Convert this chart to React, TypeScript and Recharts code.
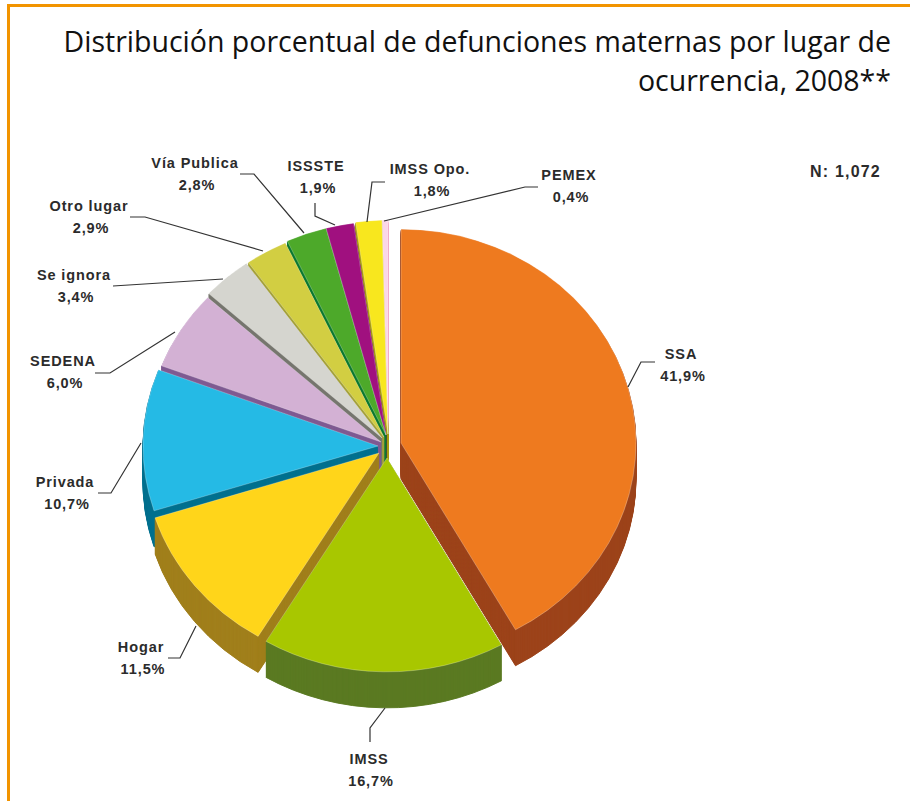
import React from 'react';
import { PieChart, Pie, Cell, Sector } from 'recharts';

const places = ['SSA', 'IMSS', 'Hogar', 'Privada', 'SEDENA', 'Se ignora', 'Otro lugar', 'Vía Publica', 'ISSSTE', 'IMSS Opo.', 'PEMEX'];
const shares = [41.9, 16.7, 11.5, 10.7, 6.0, 3.4, 2.9, 2.8, 1.9, 1.8, 0.4];
const topColors = ['#EE7A1F', '#A8C700', '#FFD51A', '#25BAE5', '#D3B1D4', '#D5D5CF', '#D2CE42', '#4DA92A', '#A0107F', '#F8E71E', '#FBD7E8'];
const sideColors = ['#9C431A', '#5A7A22', '#A17F1B', '#00708F', '#7F5A92', '#77776F', '#A5A23A', '#0D7A30', '#6D0A58', '#A89B10', '#F0A0C0'];

// how far each slice is pulled out of the pie
const pullX = [16, 2, -6, -7, -4, -3, -1, 1, 1, 3, 3];
const pullY = [2, 17, 12, 5, 1, -3, -4, -6, -6, -7, -7];

// sides are painted from the back of the pie to the front
const sideOrder = [10, 9, 8, 7, 6, 5, 4, 3, 0, 2, 1];

// leader line (slice, elbow, end) and label centre for each slice
const leaders: number[][][] = [
  [[628, 387], [641, 362], [655, 362]],
  [[385, 708], [370, 728], [370, 742]],
  [[196, 626], [180, 658], [168, 658]],
  [[141, 443], [111, 493], [98, 493]],
  [[175, 332], [110, 373], [95, 373]],
  [[223, 279], [113, 286], [113, 286]],
  [[263, 251], [145, 217], [130, 217]],
  [[304, 233], [254, 174], [240, 174]],
  [[335, 225], [315, 216], [315, 203]],
  [[367, 222], [372, 182], [385, 182]],
  [[384, 221], [525, 187], [538, 187]],
];
const labelSpots = [
  [681, 354], [369, 759], [141, 647], [65, 482], [63, 361], [74, 275], [89, 206], [195, 163], [316, 166], [430, 169], [569, 175],
];

const data = places.map((name, i) => ({ name, value: shares[i] }));

const CX = 385;
const CY = 441;
const RADIUS = 235;
const SQUASH = 0.91;
const DEPTH = 36;

function faceTransform(i: number, extra: number) {
  return `translate(${CX + pullX[i]} ${CY + pullY[i] + extra}) scale(1 ${SQUASH}) translate(${-CX} ${-CY})`;
}

function TopSlice(props: any) {
  const i = places.indexOf(props.name);
  return (
    <g transform={faceTransform(i, 0)}>
      <Sector cx={CX} cy={CY} innerRadius={0} outerRadius={RADIUS} startAngle={props.startAngle} endAngle={props.endAngle} fill={props.fill} stroke="#fff" strokeOpacity={0.45} strokeWidth={0.6} />
    </g>
  );
}

// one pie per slice so the extruded sides can overlap in depth order
const makeSideSlice = (only: number) => (props: any) => {
  const i = places.indexOf(props.name);
  if (i !== only) return <g />;
  const layers = [];
  for (let d = DEPTH; d > 0; d--) {
    layers.push(
      <g key={d} transform={faceTransform(i, d)}>
        <Sector cx={CX} cy={CY} innerRadius={0} outerRadius={RADIUS} startAngle={props.startAngle} endAngle={props.endAngle} fill={props.fill} stroke={props.fill} strokeWidth={1} />
      </g>
    );
  }
  return <g>{layers}</g>;
};

const labelFont = { fontFamily: '"Liberation Sans", Arial, sans-serif', fontSize: 14.5, fontWeight: 700, letterSpacing: 0.9 };

function SliceLabel(props: any) {
  const i = places.indexOf(props.name);
  const pts = leaders[i];
  const [x, y] = labelSpots[i];
  return (
    <g>
      <polyline points={pts.map((p) => p.join(',')).join(' ')} fill="none" stroke="#333" strokeWidth={1.2} />
      <text x={x} y={y + 5} textAnchor="middle" style={{ ...labelFont, fill: '#2b2b2b' }}>{props.name}</text>
      <text x={x + 2} y={y + 27} textAnchor="middle" style={{ ...labelFont, fill: '#2b2b2b' }}>{shares[i].toFixed(1).replace('.', ',')}%</text>
    </g>
  );
}

export default function App() {
  return (
    <div style={{ position: 'absolute', left: 0, top: 0, width: 910, height: 801, background: '#fff', overflow: 'hidden' }}>
      <div style={{ position: 'absolute', left: 7, top: 4, width: 903, height: 3, background: '#F29400' }} />
      <div style={{ position: 'absolute', left: 7, top: 4, width: 3, height: 797, background: '#F29400' }} />
      <div
        style={{
          position: 'absolute',
          right: 19,
          top: 22,
          width: 860,
          textAlign: 'right',
          fontFamily: '"Open Sans", sans-serif',
          fontSize: 28.5,
          lineHeight: '39px',
          color: '#111',
        }}
      >
        Distribución porcentual de defunciones maternas por lugar de
        <br />
        ocurrencia, 2008**
      </div>
      <div style={{ position: 'absolute', left: 810, top: 163, color: '#2b2b2b', ...labelFont, fontSize: 16, letterSpacing: 1.2 }}>
        N: 1,072
      </div>
      <PieChart width={910} height={801} style={{ position: 'absolute', left: 0, top: 0 }}>
        {sideOrder.map((k) => (
          <Pie
            key={k}
            data={data}
            dataKey="value"
            nameKey="name"
            cx={CX}
            cy={CY}
            outerRadius={RADIUS}
            startAngle={90}
            endAngle={-270}
            stroke="none"
            shape={makeSideSlice(k)}
            isAnimationActive={false}
          >
            {places.map((name, i) => <Cell key={name} fill={sideColors[i]} />)}
          </Pie>
        ))}
        <Pie
          data={data}
          dataKey="value"
          nameKey="name"
          cx={CX}
          cy={CY}
          outerRadius={RADIUS}
          startAngle={90}
          endAngle={-270}
          stroke="none"
          shape={TopSlice}
          label={SliceLabel}
          labelLine={false}
          isAnimationActive={false}
        >
          {places.map((name, i) => <Cell key={name} fill={topColors[i]} />)}
        </Pie>
      </PieChart>
    </div>
  );
}
